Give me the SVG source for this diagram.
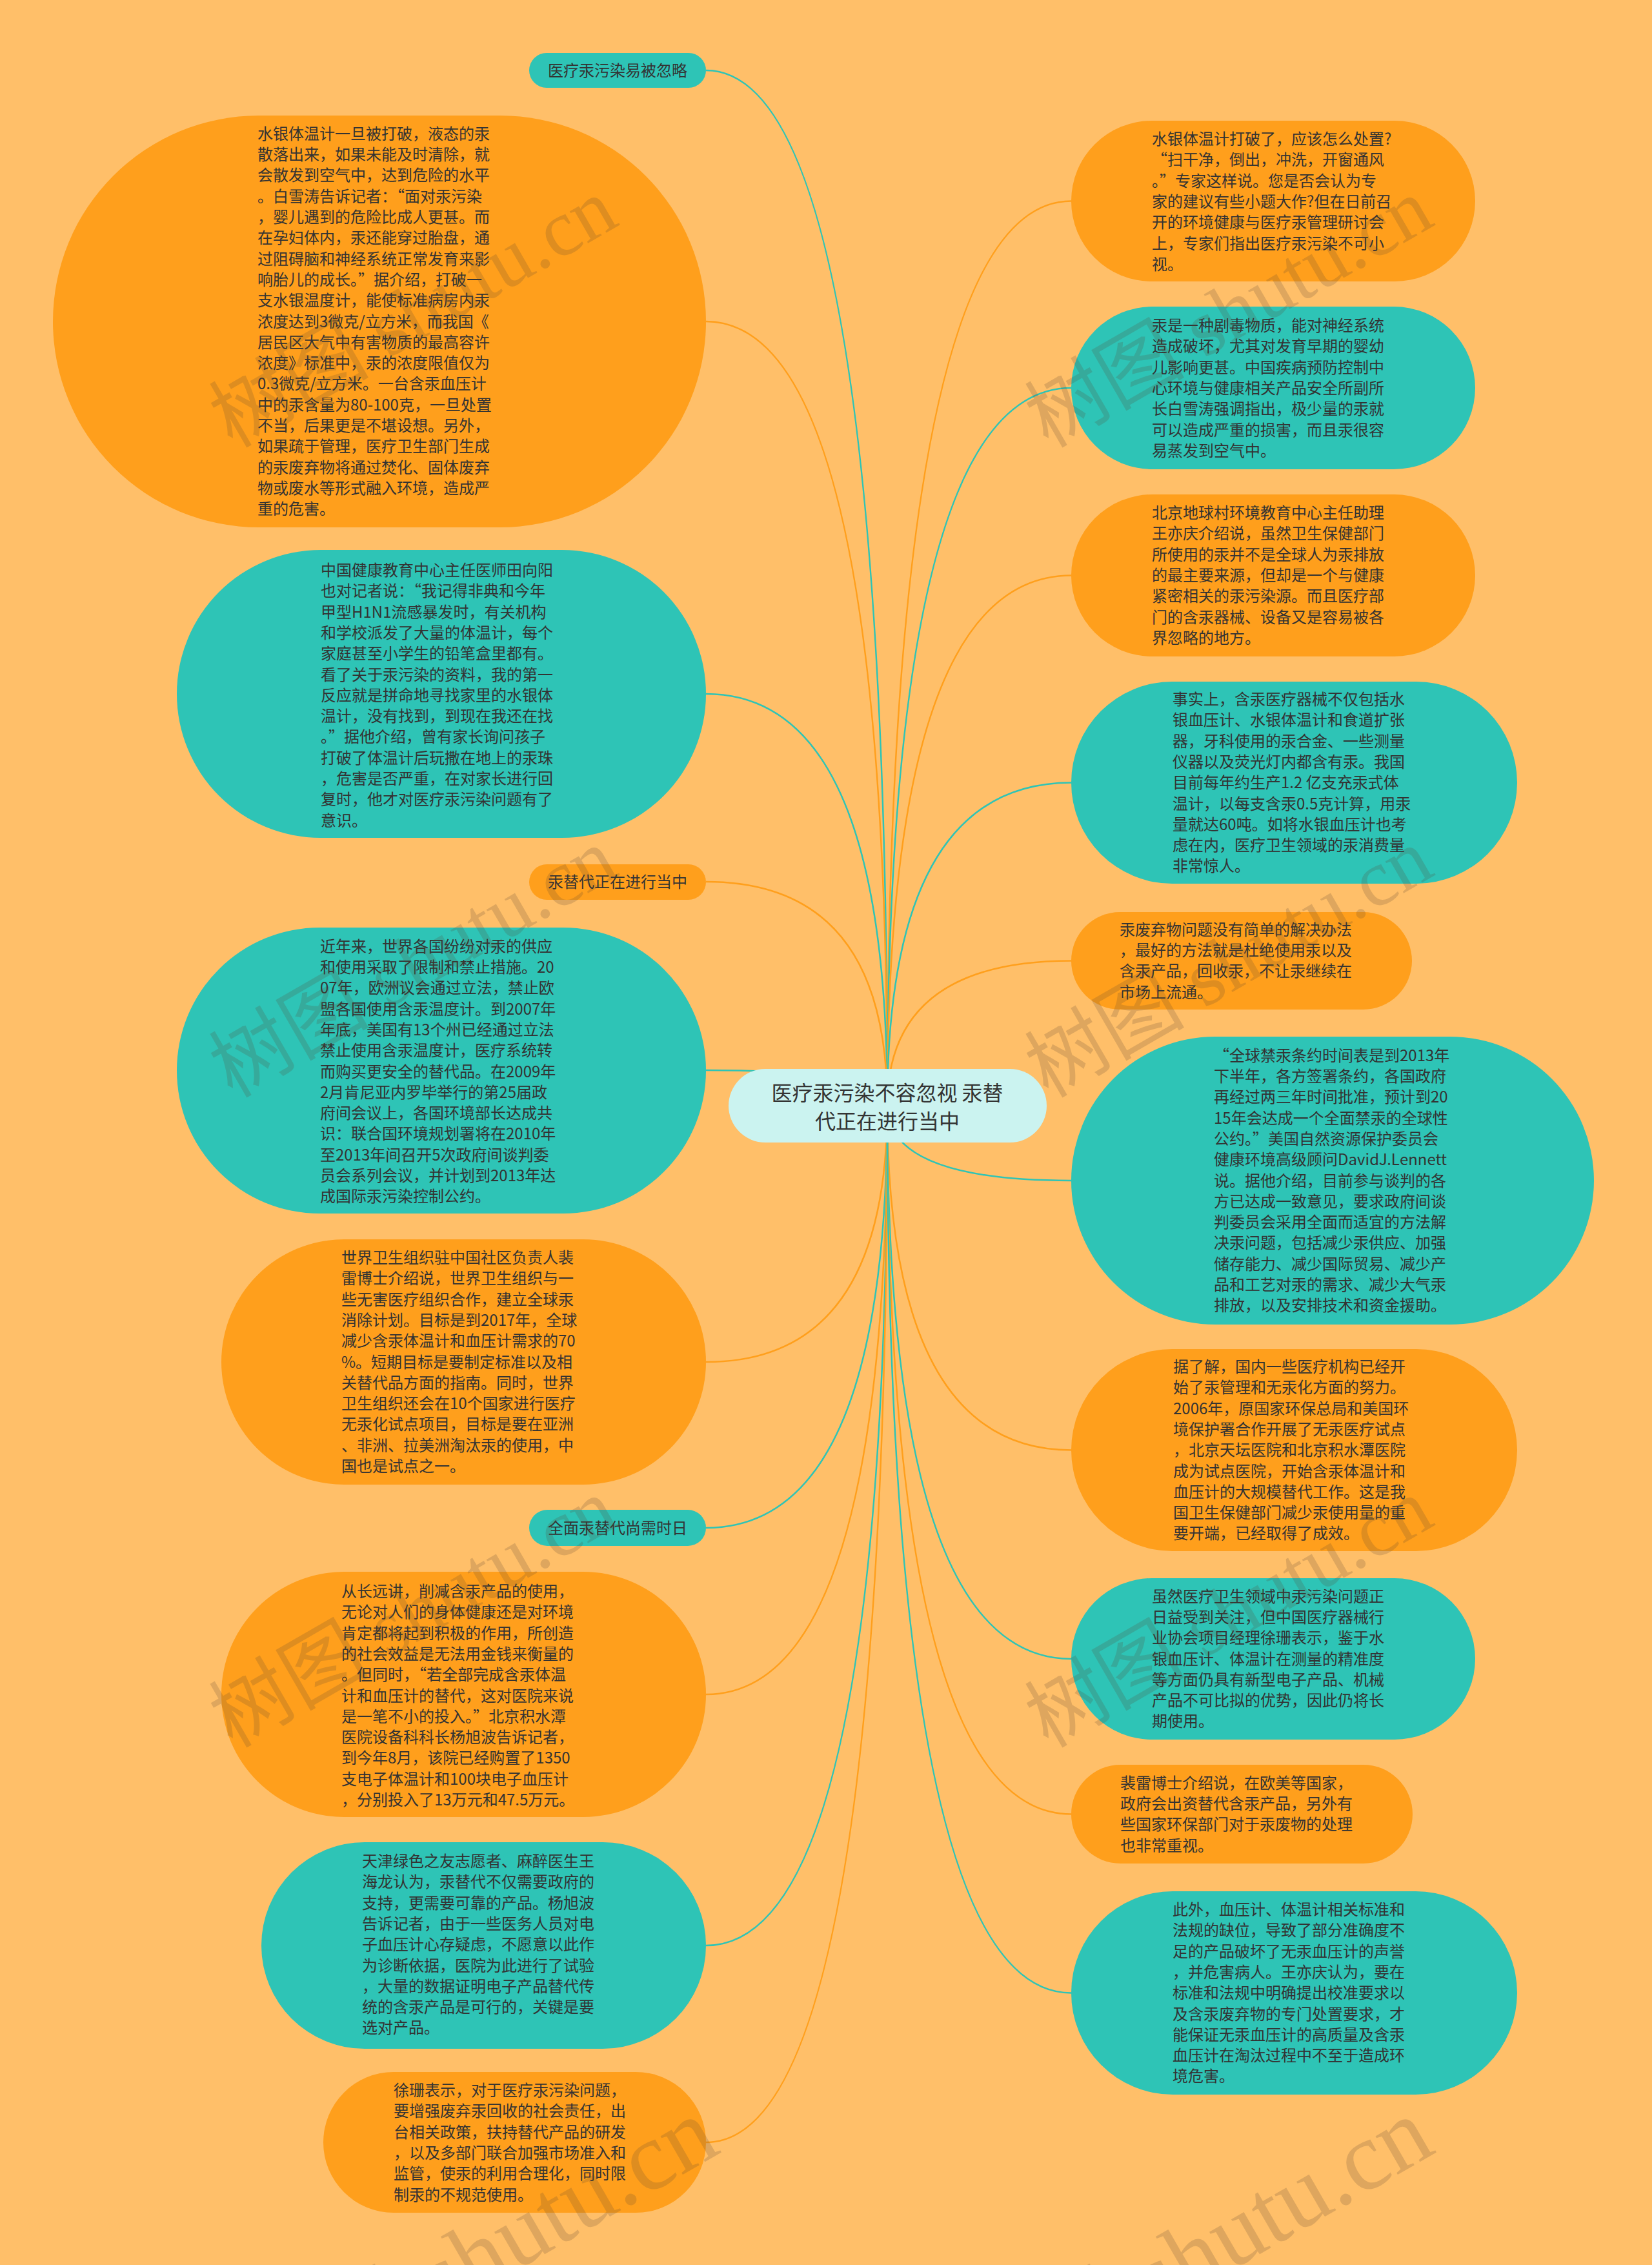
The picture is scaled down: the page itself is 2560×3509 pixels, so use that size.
<svg xmlns="http://www.w3.org/2000/svg" width="2560" height="3509" viewBox="0 0 2560 3509">
<style>
.o{fill:#FF9F1C}
.t{fill:#2EC4B6}
.c{fill:#CBF3F0}
.lo{fill:none;stroke:#FF9F1C;stroke-width:2.5}
.lt{fill:none;stroke:#2EC4B6;stroke-width:2.5}
text{font-family:"Noto Sans CJK SC","Microsoft YaHei",sans-serif;font-size:24px;fill:#333333}
.lab{text-anchor:middle}
.ctr{font-size:32px;text-anchor:middle}
.wm{font-family:"Liberation Serif","Noto Sans CJK SC",serif;font-size:124px;fill:#5a4632;fill-opacity:0.2}
.wb{font-size:150px}
</style>
<rect width="2560" height="3509" fill="#FFBF69"/>
<g id="connectors">
<path class="lt" d="M1375 1713 Q1375 109 1094 109"/>
<path class="lo" d="M1375 1713 Q1375 498 1094 498"/>
<path class="lt" d="M1375 1713 Q1375 1075 1094 1075"/>
<path class="lo" d="M1375 1713 Q1375 1366 1094 1366"/>
<path class="lt" d="M1375 1713 Q1375 1658 1094 1658"/>
<path class="lo" d="M1375 1713 Q1375 2110 1094 2110"/>
<path class="lt" d="M1375 1713 Q1375 2367 1094 2367"/>
<path class="lo" d="M1375 1713 Q1375 2625 1094 2625"/>
<path class="lt" d="M1375 1713 Q1375 3014 1094 3014"/>
<path class="lo" d="M1375 1713 Q1375 3319 1094 3319"/>
<path class="lo" d="M1375 1713 Q1375 311.5 1660 311.5"/>
<path class="lt" d="M1375 1713 Q1375 601 1660 601"/>
<path class="lo" d="M1375 1713 Q1375 891.5 1660 891.5"/>
<path class="lt" d="M1375 1713 Q1375 1212.5 1660 1212.5"/>
<path class="lo" d="M1375 1713 Q1375 1488.5 1660 1488.5"/>
<path class="lt" d="M1375 1713 Q1375 1829 1660 1829"/>
<path class="lo" d="M1375 1713 Q1375 2246.5 1660 2246.5"/>
<path class="lt" d="M1375 1713 Q1375 2570 1660 2570"/>
<path class="lo" d="M1375 1713 Q1375 2810.5 1660 2810.5"/>
<path class="lt" d="M1375 1713 Q1375 3087.5 1660 3087.5"/>
</g>
<g id="center">
<rect class="c" x="1129" y="1656" width="493" height="114" rx="57"/>
<text class="ctr"><tspan x="1375" y="1705">医疗汞污染不容忽视 汞替</tspan><tspan x="1375" y="1749">代正在进行当中</tspan></text>
</g>
<g id="L1">
<rect class="t" x="820" y="82" width="274" height="54" rx="27"/>
<text class="lab" x="957" y="117.5">医疗汞污染易被忽略</text>
</g>
<g id="L2">
<rect class="o" x="82" y="179" width="1012" height="638" rx="319"/>
<text y="215.8"><tspan x="399">水银体温计一旦被打破，液态的汞</tspan><tspan x="399" dy="32.3">散落出来，如果未能及时清除，就</tspan><tspan x="399" dy="32.3">会散发到空气中，达到危险的水平</tspan><tspan x="399" dy="32.3">。白雪涛告诉记者：“面对汞污染</tspan><tspan x="399" dy="32.3">，婴儿遇到的危险比成人更甚。而</tspan><tspan x="399" dy="32.3">在孕妇体内，汞还能穿过胎盘，通</tspan><tspan x="399" dy="32.3">过阻碍脑和神经系统正常发育来影</tspan><tspan x="399" dy="32.3">响胎儿的成长。”据介绍，打破一</tspan><tspan x="399" dy="32.3">支水银温度计，能使标准病房内汞</tspan><tspan x="399" dy="32.3">浓度达到3微克/立方米，而我国《</tspan><tspan x="399" dy="32.3">居民区大气中有害物质的最高容许</tspan><tspan x="399" dy="32.3">浓度》标准中，汞的浓度限值仅为</tspan><tspan x="399" dy="32.3">0.3微克/立方米。一台含汞血压计</tspan><tspan x="399" dy="32.3">中的汞含量为80-100克，一旦处置</tspan><tspan x="399" dy="32.3">不当，后果更是不堪设想。另外，</tspan><tspan x="399" dy="32.3">如果疏于管理，医疗卫生部门生成</tspan><tspan x="399" dy="32.3">的汞废弃物将通过焚化、固体废弃</tspan><tspan x="399" dy="32.3">物或废水等形式融入环境，造成严</tspan><tspan x="399" dy="32.3">重的危害。</tspan></text>
</g>
<g id="L3">
<rect class="t" x="274" y="852" width="820" height="446" rx="223"/>
<text y="892"><tspan x="497">中国健康教育中心主任医师田向阳</tspan><tspan x="497" dy="32.3">也对记者说：“我记得非典和今年</tspan><tspan x="497" dy="32.3">甲型H1N1流感暴发时，有关机构</tspan><tspan x="497" dy="32.3">和学校派发了大量的体温计，每个</tspan><tspan x="497" dy="32.3">家庭甚至小学生的铅笔盒里都有。</tspan><tspan x="497" dy="32.3">看了关于汞污染的资料，我的第一</tspan><tspan x="497" dy="32.3">反应就是拼命地寻找家里的水银体</tspan><tspan x="497" dy="32.3">温计，没有找到，到现在我还在找</tspan><tspan x="497" dy="32.3">。”据他介绍，曾有家长询问孩子</tspan><tspan x="497" dy="32.3">打破了体温计后玩撒在地上的汞珠</tspan><tspan x="497" dy="32.3">，危害是否严重，在对家长进行回</tspan><tspan x="497" dy="32.3">复时，他才对医疗汞污染问题有了</tspan><tspan x="497" dy="32.3">意识。</tspan></text>
</g>
<g id="L4">
<rect class="o" x="820" y="1339" width="274" height="55" rx="27.5"/>
<text class="lab" x="957" y="1374.5">汞替代正在进行当中</text>
</g>
<g id="L5">
<rect class="t" x="274" y="1437" width="820" height="443" rx="221.5"/>
<text y="1474.7"><tspan x="496">近年来，世界各国纷纷对汞的供应</tspan><tspan x="496" dy="32.3">和使用采取了限制和禁止措施。20</tspan><tspan x="496" dy="32.3">07年，欧洲议会通过立法，禁止欧</tspan><tspan x="496" dy="32.3">盟各国使用含汞温度计。到2007年</tspan><tspan x="496" dy="32.3">年底，美国有13个州已经通过立法</tspan><tspan x="496" dy="32.3">禁止使用含汞温度计，医疗系统转</tspan><tspan x="496" dy="32.3">而购买更安全的替代品。在2009年</tspan><tspan x="496" dy="32.3">2月肯尼亚内罗毕举行的第25届政</tspan><tspan x="496" dy="32.3">府间会议上，各国环境部长达成共</tspan><tspan x="496" dy="32.3">识：联合国环境规划署将在2010年</tspan><tspan x="496" dy="32.3">至2013年间召开5次政府间谈判委</tspan><tspan x="496" dy="32.3">员会系列会议，并计划到2013年达</tspan><tspan x="496" dy="32.3">成国际汞污染控制公约。</tspan></text>
</g>
<g id="L6">
<rect class="o" x="343" y="1920" width="751" height="380" rx="190"/>
<text y="1957"><tspan x="529">世界卫生组织驻中国社区负责人裴</tspan><tspan x="529" dy="32.3">雷博士介绍说，世界卫生组织与一</tspan><tspan x="529" dy="32.3">些无害医疗组织合作，建立全球汞</tspan><tspan x="529" dy="32.3">消除计划。目标是到2017年，全球</tspan><tspan x="529" dy="32.3">减少含汞体温计和血压计需求的70</tspan><tspan x="529" dy="32.3">%。短期目标是要制定标准以及相</tspan><tspan x="529" dy="32.3">关替代品方面的指南。同时，世界</tspan><tspan x="529" dy="32.3">卫生组织还会在10个国家进行医疗</tspan><tspan x="529" dy="32.3">无汞化试点项目，目标是要在亚洲</tspan><tspan x="529" dy="32.3">、非洲、拉美洲淘汰汞的使用，中</tspan><tspan x="529" dy="32.3">国也是试点之一。</tspan></text>
</g>
<g id="L7">
<rect class="t" x="820" y="2339" width="274" height="56" rx="28"/>
<text class="lab" x="957" y="2375.5">全面汞替代尚需时日</text>
</g>
<g id="L8">
<rect class="o" x="343" y="2435" width="751" height="380" rx="190"/>
<text y="2474"><tspan x="529">从长远讲，削减含汞产品的使用，</tspan><tspan x="529" dy="32.3">无论对人们的身体健康还是对环境</tspan><tspan x="529" dy="32.3">肯定都将起到积极的作用，所创造</tspan><tspan x="529" dy="32.3">的社会效益是无法用金钱来衡量的</tspan><tspan x="529" dy="32.3">。但同时，“若全部完成含汞体温</tspan><tspan x="529" dy="32.3">计和血压计的替代，这对医院来说</tspan><tspan x="529" dy="32.3">是一笔不小的投入。”北京积水潭</tspan><tspan x="529" dy="32.3">医院设备科科长杨旭波告诉记者，</tspan><tspan x="529" dy="32.3">到今年8月，该院已经购置了1350</tspan><tspan x="529" dy="32.3">支电子体温计和100块电子血压计</tspan><tspan x="529" dy="32.3">，分别投入了13万元和47.5万元。</tspan></text>
</g>
<g id="L9">
<rect class="t" x="405" y="2854" width="689" height="320" rx="160"/>
<text y="2892"><tspan x="561">天津绿色之友志愿者、麻醉医生王</tspan><tspan x="561" dy="32.3">海龙认为，汞替代不仅需要政府的</tspan><tspan x="561" dy="32.3">支持，更需要可靠的产品。杨旭波</tspan><tspan x="561" dy="32.3">告诉记者，由于一些医务人员对电</tspan><tspan x="561" dy="32.3">子血压计心存疑虑，不愿意以此作</tspan><tspan x="561" dy="32.3">为诊断依据，医院为此进行了试验</tspan><tspan x="561" dy="32.3">，大量的数据证明电子产品替代传</tspan><tspan x="561" dy="32.3">统的含汞产品是可行的，关键是要</tspan><tspan x="561" dy="32.3">选对产品。</tspan></text>
</g>
<g id="L10">
<rect class="o" x="501" y="3210" width="593" height="218" rx="109"/>
<text y="3247"><tspan x="610">徐珊表示，对于医疗汞污染问题，</tspan><tspan x="610" dy="32.3">要增强废弃汞回收的社会责任，出</tspan><tspan x="610" dy="32.3">台相关政策，扶持替代产品的研发</tspan><tspan x="610" dy="32.3">，以及多部门联合加强市场准入和</tspan><tspan x="610" dy="32.3">监管，使汞的利用合理化，同时限</tspan><tspan x="610" dy="32.3">制汞的不规范使用。</tspan></text>
</g>
<g id="R1">
<rect class="o" x="1660" y="187" width="626" height="249" rx="124.5"/>
<text y="224"><tspan x="1785">水银体温计打破了，应该怎么处置?</tspan><tspan x="1785" dy="32.3">“扫干净，倒出，冲洗，开窗通风</tspan><tspan x="1785" dy="32.3">。”专家这样说。您是否会认为专</tspan><tspan x="1785" dy="32.3">家的建议有些小题大作?但在日前召</tspan><tspan x="1785" dy="32.3">开的环境健康与医疗汞管理研讨会</tspan><tspan x="1785" dy="32.3">上，专家们指出医疗汞污染不可小</tspan><tspan x="1785" dy="32.3">视。</tspan></text>
</g>
<g id="R2">
<rect class="t" x="1660" y="475" width="626" height="252" rx="126"/>
<text y="513"><tspan x="1785">汞是一种剧毒物质，能对神经系统</tspan><tspan x="1785" dy="32.3">造成破坏，尤其对发育早期的婴幼</tspan><tspan x="1785" dy="32.3">儿影响更甚。中国疾病预防控制中</tspan><tspan x="1785" dy="32.3">心环境与健康相关产品安全所副所</tspan><tspan x="1785" dy="32.3">长白雪涛强调指出，极少量的汞就</tspan><tspan x="1785" dy="32.3">可以造成严重的损害，而且汞很容</tspan><tspan x="1785" dy="32.3">易蒸发到空气中。</tspan></text>
</g>
<g id="R3">
<rect class="o" x="1660" y="766" width="626" height="251" rx="125.5"/>
<text y="803"><tspan x="1785">北京地球村环境教育中心主任助理</tspan><tspan x="1785" dy="32.3">王亦庆介绍说，虽然卫生保健部门</tspan><tspan x="1785" dy="32.3">所使用的汞并不是全球人为汞排放</tspan><tspan x="1785" dy="32.3">的最主要来源，但却是一个与健康</tspan><tspan x="1785" dy="32.3">紧密相关的汞污染源。而且医疗部</tspan><tspan x="1785" dy="32.3">门的含汞器械、设备又是容易被各</tspan><tspan x="1785" dy="32.3">界忽略的地方。</tspan></text>
</g>
<g id="R4">
<rect class="t" x="1660" y="1056" width="691" height="313" rx="156.5"/>
<text y="1092"><tspan x="1817">事实上，含汞医疗器械不仅包括水</tspan><tspan x="1817" dy="32.3">银血压计、水银体温计和食道扩张</tspan><tspan x="1817" dy="32.3">器，牙科使用的汞合金、一些测量</tspan><tspan x="1817" dy="32.3">仪器以及荧光灯内都含有汞。我国</tspan><tspan x="1817" dy="32.3">目前每年约生产1.2 亿支充汞式体</tspan><tspan x="1817" dy="32.3">温计，以每支含汞0.5克计算，用汞</tspan><tspan x="1817" dy="32.3">量就达60吨。如将水银血压计也考</tspan><tspan x="1817" dy="32.3">虑在内，医疗卫生领域的汞消费量</tspan><tspan x="1817" dy="32.3">非常惊人。</tspan></text>
</g>
<g id="R5">
<rect class="o" x="1660" y="1413" width="528" height="151" rx="75.5"/>
<text y="1448.6"><tspan x="1735">汞废弃物问题没有简单的解决办法</tspan><tspan x="1735" dy="32.3">，最好的方法就是杜绝使用汞以及</tspan><tspan x="1735" dy="32.3">含汞产品，回收汞，不让汞继续在</tspan><tspan x="1735" dy="32.3">市场上流通。</tspan></text>
</g>
<g id="R6">
<rect class="t" x="1660" y="1606" width="810" height="446" rx="223"/>
<text y="1643.7"><tspan x="1881">“全球禁汞条约时间表是到2013年</tspan><tspan x="1881" dy="32.3">下半年，各方签署条约，各国政府</tspan><tspan x="1881" dy="32.3">再经过两三年时间批准，预计到20</tspan><tspan x="1881" dy="32.3">15年会达成一个全面禁汞的全球性</tspan><tspan x="1881" dy="32.3">公约。”美国自然资源保护委员会</tspan><tspan x="1881" dy="32.3">健康环境高级顾问DavidJ.Lennett</tspan><tspan x="1881" dy="32.3">说。据他介绍，目前参与谈判的各</tspan><tspan x="1881" dy="32.3">方已达成一致意见，要求政府间谈</tspan><tspan x="1881" dy="32.3">判委员会采用全面而适宜的方法解</tspan><tspan x="1881" dy="32.3">决汞问题，包括减少汞供应、加强</tspan><tspan x="1881" dy="32.3">储存能力、减少国际贸易、减少产</tspan><tspan x="1881" dy="32.3">品和工艺对汞的需求、减少大气汞</tspan><tspan x="1881" dy="32.3">排放，以及安排技术和资金援助。</tspan></text>
</g>
<g id="R7">
<rect class="o" x="1660" y="2090" width="691" height="313" rx="156.5"/>
<text y="2126"><tspan x="1818">据了解，国内一些医疗机构已经开</tspan><tspan x="1818" dy="32.3">始了汞管理和无汞化方面的努力。</tspan><tspan x="1818" dy="32.3">2006年，原国家环保总局和美国环</tspan><tspan x="1818" dy="32.3">境保护署合作开展了无汞医疗试点</tspan><tspan x="1818" dy="32.3">，北京天坛医院和北京积水潭医院</tspan><tspan x="1818" dy="32.3">成为试点医院，开始含汞体温计和</tspan><tspan x="1818" dy="32.3">血压计的大规模替代工作。这是我</tspan><tspan x="1818" dy="32.3">国卫生保健部门减少汞使用量的重</tspan><tspan x="1818" dy="32.3">要开端，已经取得了成效。</tspan></text>
</g>
<g id="R8">
<rect class="t" x="1660" y="2445" width="626" height="250" rx="125"/>
<text y="2481.6"><tspan x="1785">虽然医疗卫生领域中汞污染问题正</tspan><tspan x="1785" dy="32.3">日益受到关注，但中国医疗器械行</tspan><tspan x="1785" dy="32.3">业协会项目经理徐珊表示，鉴于水</tspan><tspan x="1785" dy="32.3">银血压计、体温计在测量的精准度</tspan><tspan x="1785" dy="32.3">等方面仍具有新型电子产品、机械</tspan><tspan x="1785" dy="32.3">产品不可比拟的优势，因此仍将长</tspan><tspan x="1785" dy="32.3">期使用。</tspan></text>
</g>
<g id="R9">
<rect class="o" x="1660" y="2734" width="529" height="153" rx="76.5"/>
<text y="2770.6"><tspan x="1736">裴雷博士介绍说，在欧美等国家，</tspan><tspan x="1736" dy="32.3">政府会出资替代含汞产品，另外有</tspan><tspan x="1736" dy="32.3">些国家环保部门对于汞废物的处理</tspan><tspan x="1736" dy="32.3">也非常重视。</tspan></text>
</g>
<g id="R10">
<rect class="t" x="1660" y="2930" width="691" height="315" rx="157.5"/>
<text y="2967"><tspan x="1817">此外，血压计、体温计相关标准和</tspan><tspan x="1817" dy="32.3">法规的缺位，导致了部分准确度不</tspan><tspan x="1817" dy="32.3">足的产品破坏了无汞血压计的声誉</tspan><tspan x="1817" dy="32.3">，并危害病人。王亦庆认为，要在</tspan><tspan x="1817" dy="32.3">标准和法规中明确提出校准要求以</tspan><tspan x="1817" dy="32.3">及含汞废弃物的专门处置要求，才</tspan><tspan x="1817" dy="32.3">能保证无汞血压计的高质量及含汞</tspan><tspan x="1817" dy="32.3">血压计在淘汰过程中不至于造成环</tspan><tspan x="1817" dy="32.3">境危害。</tspan></text>
</g>
<g id="watermarks">
<text class="wm" transform="translate(360 695) rotate(-30)">树图 shutu.cn</text>
<text class="wm" transform="translate(1624 695) rotate(-30)">树图 shutu.cn</text>
<text class="wm" transform="translate(360 1702) rotate(-30)">树图 shutu.cn</text>
<text class="wm" transform="translate(1624 1702) rotate(-30)">树图 shutu.cn</text>
<text class="wm" transform="translate(360 2709) rotate(-30)">树图 shutu.cn</text>
<text class="wm" transform="translate(1624 2709) rotate(-30)">树图 shutu.cn</text>
<text class="wm wb" transform="translate(391 3754) rotate(-30)">树图 shutu.cn</text>
<text class="wm wb" transform="translate(1499 3754) rotate(-30)">树图 shutu.cn</text>
</g>
</svg>
